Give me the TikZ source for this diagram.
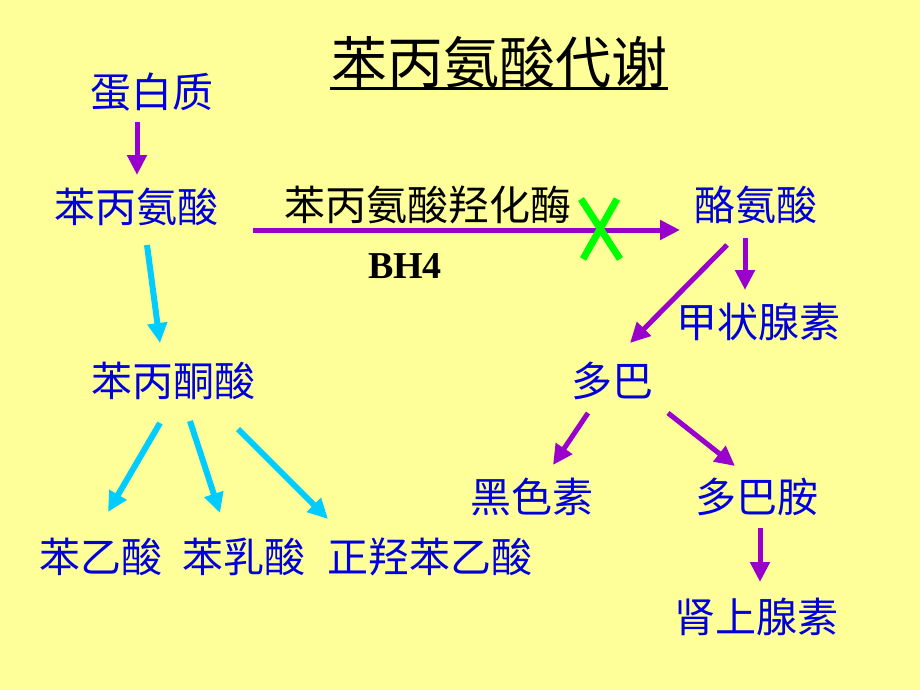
\documentclass[tikz,border=0pt]{standalone}
\usepackage{fontspec}
\newfontfamily\cjk{Noto Sans CJK SC}
\newfontfamily\tnr{Liberation Serif}
\usetikzlibrary{arrows.meta,calc}
\definecolor{bgyellow}{RGB}{255,255,153}
\definecolor{txtblue}{RGB}{0,0,220}
\definecolor{purp}{RGB}{153,0,204}
\definecolor{skyc}{RGB}{0,204,255}
\definecolor{xgreen}{RGB}{0,255,0}
\begin{document}
\begin{tikzpicture}[x=1pt,y=-1pt,
  chem/.style={text=txtblue,inner sep=0pt,font=\cjk\fontsize{41}{41}\selectfont},
  purparrow/.style={draw=purp,line width=5pt,-{Triangle[length=20pt,width=19pt]}},
  skyarrow/.style={draw=skyc,line width=6pt,-{Triangle[length=20pt,width=19pt]}}]
\fill[bgyellow] (0,0) rectangle (920,690);
\useasboundingbox (0,0) rectangle (920,690);

\node[inner sep=0pt,font=\cjk\fontsize{56}{56}\selectfont] (title) at (499,62) {苯丙氨酸代谢};
\draw[line width=3pt] (330,89) -- (668,89);

\node[chem] (dbz) at (152,92) {蛋白质};
\node[chem] (bbas) at (136,207) {苯丙氨酸};
\node[chem] (las) at (756,205) {酪氨酸};
\node[chem] (jzxs) at (758,322) {甲状腺素};
\node[chem] (db) at (612,381) {多巴};
\node[chem] (bbts) at (173,381) {苯丙酮酸};
\node[chem] (hss) at (532,497) {黑色素};
\node[chem] (dba) at (757,497) {多巴胺};
\node[chem] (bys) at (101,557) {苯乙酸};
\node[chem] (brs) at (244,557) {苯乳酸};
\node[chem] (zqbys) at (430,557) {正羟苯乙酸};
\node[chem] (sxs) at (756,617) {肾上腺素};

%-------------------------------------
\draw[purparrow] ($(dbz)+(-15,30)$) -- ($(bbas)+(1,-32)$);
\draw[purparrow] ($(bbas)+(117,23)$) -- ($(las)+(-76,25)$);
\node[inner sep=0pt,font=\cjk\fontsize{41}{41}\selectfont] (mei) at (428,205) {苯丙氨酸羟化酶};
\node[inner sep=0pt,font=\tnr\bfseries\fontsize{38}{38}\selectfont] (bh) at (405,266) {BH4};
\draw[xgreen,line width=7pt] (581,199) -- (620,259);
\draw[xgreen,line width=7pt] (617,199) -- (583,259);

\draw[purparrow] ($(las)+(-11,33)$) -- ($(jzxs)+(-13,-32)$);
\draw[purparrow] ($(las)+(-29,40)$) -- ($(db)+(18,-38)$);
\draw[purparrow] ($(db)+(-24,32)$) -- ($(hss)+(21,-32)$);
\draw[purparrow] ($(db)+(56,32)$) -- ($(dba)+(-22,-31)$);
\draw[purparrow] ($(dba)+(3,31)$) -- ($(sxs)+(4,-35)$);

%-------------------------------------
\draw[skyarrow] ($(bbas)+(11,38)$) -- ($(bbts)+(-13,-38)$);
\draw[skyarrow] ($(bbts)+(-13,42)$) -- ($(bys)+(7,-45)$);
\draw[skyarrow] ($(bbts)+(17,40)$) -- ($(brs)+(-24,-44)$);
\draw[skyarrow] ($(bbts)+(65,48)$) -- ($(zqbys)+(-102,-38)$);

\end{tikzpicture}
\end{document}
